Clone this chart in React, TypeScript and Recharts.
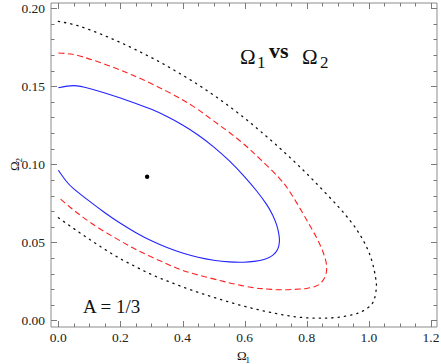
import {
  ComposedChart,
  Line,
  Scatter,
  XAxis,
  YAxis
} from 'recharts';

type Pt = { x: number; y: number };

// contour levels (x = Omega1, y = Omega2)
const inner: Pt[] = [
  { x: 0.0, y: 0.149 }, { x: 0.05, y: 0.1504 }, { x: 0.1, y: 0.1486 },
  { x: 0.15, y: 0.1457 }, { x: 0.2, y: 0.1424 }, { x: 0.25, y: 0.1389 },
  { x: 0.3, y: 0.1352 }, { x: 0.35, y: 0.1306 }, { x: 0.4, y: 0.1252 },
  { x: 0.45, y: 0.1188 }, { x: 0.5, y: 0.1112 }, { x: 0.55, y: 0.1023 },
  { x: 0.6, y: 0.092 }, { x: 0.64, y: 0.0826 }, { x: 0.67, y: 0.0745 },
  { x: 0.69, y: 0.0676 }, { x: 0.703, y: 0.0612 }, { x: 0.71, y: 0.0555 },
  { x: 0.712, y: 0.0505 }, { x: 0.706, y: 0.0455 }, { x: 0.69, y: 0.0417 },
  { x: 0.665, y: 0.0392 }, { x: 0.63, y: 0.0378 }, { x: 0.596, y: 0.0373 },
  { x: 0.55, y: 0.0375 }, { x: 0.5, y: 0.0386 }, { x: 0.45, y: 0.0405 },
  { x: 0.4, y: 0.0432 }, { x: 0.35, y: 0.0467 }, { x: 0.3, y: 0.051 },
  { x: 0.25, y: 0.0562 }, { x: 0.2, y: 0.0622 }, { x: 0.15, y: 0.069 },
  { x: 0.1, y: 0.0764 }, { x: 0.05, y: 0.0843 }, { x: 0.025, y: 0.0893 },
  { x: 0.0, y: 0.0962 }
];

const middle: Pt[] = [
  { x: 0.0, y: 0.1713 }, { x: 0.04, y: 0.1706 }, { x: 0.079, y: 0.1688 },
  { x: 0.13, y: 0.1655 }, { x: 0.187, y: 0.1613 }, { x: 0.24, y: 0.157 },
  { x: 0.294, y: 0.1522 }, { x: 0.35, y: 0.1467 }, { x: 0.401, y: 0.1412 },
  { x: 0.45, y: 0.135 }, { x: 0.5, y: 0.1278 }, { x: 0.55, y: 0.1205 },
  { x: 0.6, y: 0.1125 }, { x: 0.65, y: 0.1033 }, { x: 0.71, y: 0.0915 },
  { x: 0.75, y: 0.081 }, { x: 0.788, y: 0.0684 }, { x: 0.815, y: 0.059 },
  { x: 0.836, y: 0.0513 }, { x: 0.852, y: 0.044 }, { x: 0.862, y: 0.0375 },
  { x: 0.864, y: 0.033 }, { x: 0.86, y: 0.0285 }, { x: 0.848, y: 0.0245 },
  { x: 0.83, y: 0.022 }, { x: 0.8, y: 0.0205 }, { x: 0.777, y: 0.0201 },
  { x: 0.74, y: 0.0197 }, { x: 0.702, y: 0.0197 }, { x: 0.66, y: 0.0203 },
  { x: 0.627, y: 0.021 }, { x: 0.57, y: 0.0232 }, { x: 0.52, y: 0.0256 },
  { x: 0.46, y: 0.0286 }, { x: 0.401, y: 0.032 }, { x: 0.35, y: 0.0362 },
  { x: 0.294, y: 0.0412 }, { x: 0.24, y: 0.0465 }, { x: 0.187, y: 0.0524 },
  { x: 0.13, y: 0.0592 }, { x: 0.079, y: 0.0662 }, { x: 0.04, y: 0.0722 },
  { x: 0.0, y: 0.079 }
];

const outer: Pt[] = [
  { x: 0.0, y: 0.1915 }, { x: 0.05, y: 0.1895 }, { x: 0.1, y: 0.1862 },
  { x: 0.15, y: 0.1823 }, { x: 0.2, y: 0.178 }, { x: 0.25, y: 0.1733 },
  { x: 0.3, y: 0.1683 }, { x: 0.35, y: 0.1629 }, { x: 0.4, y: 0.1571 },
  { x: 0.45, y: 0.151 }, { x: 0.5, y: 0.1443 }, { x: 0.55, y: 0.1372 },
  { x: 0.6, y: 0.1295 }, { x: 0.65, y: 0.1213 }, { x: 0.7, y: 0.1127 },
  { x: 0.75, y: 0.1036 }, { x: 0.8, y: 0.094 }, { x: 0.85, y: 0.0838 },
  { x: 0.9, y: 0.0732 }, { x: 0.94, y: 0.0638 }, { x: 0.97, y: 0.0553 },
  { x: 0.995, y: 0.046 }, { x: 1.012, y: 0.0365 }, { x: 1.022, y: 0.027 },
  { x: 1.024, y: 0.021 }, { x: 1.018, y: 0.014 }, { x: 1.005, y: 0.0095 },
  { x: 0.98, y: 0.006 }, { x: 0.95, y: 0.0038 }, { x: 0.9, y: 0.002 },
  { x: 0.85, y: 0.0015 }, { x: 0.8, y: 0.0017 }, { x: 0.75, y: 0.0027 },
  { x: 0.7, y: 0.0045 }, { x: 0.65, y: 0.0066 }, { x: 0.6, y: 0.009 },
  { x: 0.55, y: 0.0118 }, { x: 0.5, y: 0.0148 }, { x: 0.45, y: 0.018 },
  { x: 0.4, y: 0.0215 }, { x: 0.35, y: 0.0253 }, { x: 0.3, y: 0.0294 },
  { x: 0.25, y: 0.0343 }, { x: 0.2, y: 0.0395 }, { x: 0.15, y: 0.0455 },
  { x: 0.1, y: 0.052 }, { x: 0.05, y: 0.0588 }, { x: 0.0, y: 0.0658 }
];

const bestFit: Pt[] = [{ x: 0.286, y: 0.092 }];

const xTicks = [
  0, 0.05, 0.1, 0.15, 0.2, 0.25, 0.3, 0.35, 0.4, 0.45, 0.5, 0.55, 0.6,
  0.65, 0.7, 0.75, 0.8, 0.85, 0.9, 0.95, 1.0, 1.05, 1.1, 1.15, 1.2
];
const yTicks = [
  0, 0.01, 0.02, 0.03, 0.04, 0.05, 0.06, 0.07, 0.08, 0.09, 0.1,
  0.11, 0.12, 0.13, 0.14, 0.15, 0.16, 0.17, 0.18, 0.19, 0.2
];

const xDomain = [-0.0235, 1.2193];
const yDomain = [-0.0042, 0.2033];

const frame = '#8c8c8c';
const tickColor = '#7a7a7a';
const serif = 'Liberation Serif, Times New Roman, Times, serif';

const isMajor = (v: number, step: number) => Math.abs(v / step - Math.round(v / step)) < 1e-6;
// snap to the pixel grid so 1px tick marks stay crisp
const crisp = (v: number) => Math.round(v) + 0.5;

type TickProps = { x: number | string; y: number | string; payload: { value: number } };

const BottomTick = (props: TickProps) => {
  const x = Number(props.x);
  const y = Number(props.y);
  const major = isMajor(props.payload.value, 0.2);
  return (
    <g>
      <line x1={crisp(x)} y1={y} x2={crisp(x)} y2={y - (major ? 6 : 3.5)} stroke={tickColor} strokeWidth={1} />
      {major && (
        <text x={x} y={y + 14.5} textAnchor="middle" fontSize={13.5} fontFamily={serif} fill="#222" stroke="none">
          {props.payload.value.toFixed(1)}
        </text>
      )}
    </g>
  );
};

const TopTick = (props: TickProps) => {
  const x = Number(props.x);
  const y = Number(props.y);
  const major = isMajor(props.payload.value, 0.2);
  return <line x1={crisp(x)} y1={y} x2={crisp(x)} y2={y + (major ? 6 : 3.5)} stroke={tickColor} strokeWidth={1} />;
};

const LeftTick = (props: TickProps) => {
  const x = Number(props.x);
  const y = Number(props.y);
  const major = isMajor(props.payload.value, 0.05);
  return (
    <g>
      <line x1={x} y1={crisp(y)} x2={x + (major ? 6 : 3.5)} y2={crisp(y)} stroke={tickColor} strokeWidth={1} />
      {major && (
        <text x={x - 6} y={y + 4.5} textAnchor="end" fontSize={13.5} fontFamily={serif} fill="#222" stroke="none">
          {props.payload.value.toFixed(2)}
        </text>
      )}
    </g>
  );
};

const RightTick = (props: TickProps) => {
  const x = Number(props.x);
  const y = Number(props.y);
  const major = isMajor(props.payload.value, 0.05);
  return <line x1={x} y1={crisp(y)} x2={x - (major ? 6 : 3.5)} y2={crisp(y)} stroke={tickColor} strokeWidth={1} />;
};

const Annotations = () => (
  <g fontFamily={serif} fill="#111">
    {/* title: Omega_1 vs Omega_2 */}
    <text x={240} y={64} fontSize={21}>Ω</text>
    <text x={257} y={67.5} fontSize={17}>1</text>
    <text x={269} y={58} fontSize={22} fontWeight="bold">vs</text>
    <text x={302} y={64} fontSize={21}>Ω</text>
    <text x={320} y={67.5} fontSize={17}>2</text>

    <text x={83} y={313} fontSize={19}>A = 1/3</text>

    {/* axis titles */}
    <text x={237} y={360} fontSize={13}>Ω</text>
    <text x={245.5} y={363} fontSize={9}>1</text>
    <g transform="translate(19 171) rotate(-90)">
      <text x={0} y={0} fontSize={13}>Ω</text>
      <text x={8.5} y={3} fontSize={9}>2</text>
    </g>
  </g>
);

export default function App() {
  return (
    <div style={{ position: 'absolute', left: 0, top: 0 }}>
      <ComposedChart
        width={441}
        height={364}
        margin={{ top: 2, right: 3, bottom: 0, left: 0 }}
      >
        <XAxis
          dataKey="x"
          type="number"
          domain={xDomain}
          allowDataOverflow
          ticks={xTicks}
          interval={0}
          height={37}
          stroke={frame}
          tickLine={false}
          tickSize={0}
          tickMargin={0}
          tick={BottomTick}
        />
        <XAxis
          xAxisId="top"
          orientation="top"
          dataKey="x"
          type="number"
          domain={xDomain}
          allowDataOverflow
          ticks={xTicks}
          interval={0}
          height={1}
          stroke={frame}
          tickLine={false}
          tickSize={0}
          tickMargin={0}
          tick={TopTick}
        />
        <YAxis
          dataKey="y"
          type="number"
          domain={yDomain}
          allowDataOverflow
          ticks={yTicks}
          interval={0}
          width={51}
          stroke={frame}
          tickLine={false}
          tickSize={0}
          tickMargin={0}
          tick={LeftTick}
        />
        <YAxis
          yAxisId="right"
          orientation="right"
          dataKey="y"
          type="number"
          domain={yDomain}
          allowDataOverflow
          ticks={yTicks}
          interval={0}
          width={1}
          stroke={frame}
          tickLine={false}
          tickSize={0}
          tickMargin={0}
          tick={RightTick}
        />

        <Line data={outer} dataKey="y" type="natural" stroke="#111" strokeWidth={1.3}
          strokeDasharray="1.3 5" strokeLinecap="round" dot={false} isAnimationActive={false} />
        <Line data={middle} dataKey="y" type="natural" stroke="#ff2020" strokeWidth={1.1}
          strokeDasharray="6 3.5" dot={false} isAnimationActive={false} />
        <Line data={inner} dataKey="y" type="natural" stroke="#2323ff" strokeWidth={1.1}
          dot={false} isAnimationActive={false} />
        <Scatter
          data={bestFit}
          dataKey="y"
          isAnimationActive={false}
          shape={(p: any) => <circle cx={p.cx} cy={p.cy} r={2.2} fill="#000" />}
        />

        <Annotations />
      </ComposedChart>
    </div>
  );
}
